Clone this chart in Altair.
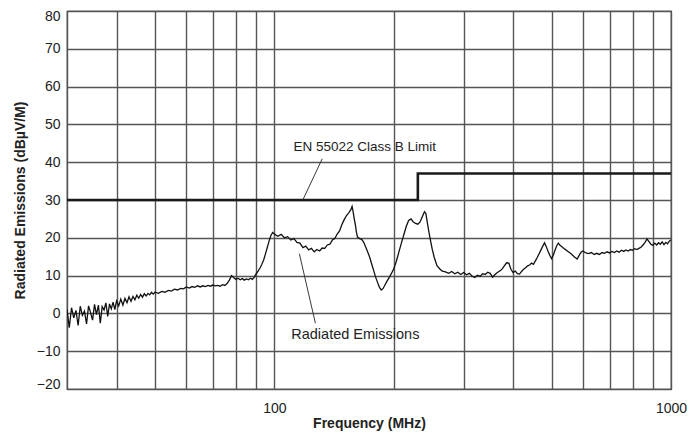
import altair as alt
import pandas as pd

# ---------------- data ----------------
# Radiated emissions trace, frequency in MHz and level in dBuV/m
freq_low = [30.0, 30.4, 30.8, 31.2, 31.6, 32.0, 32.4, 32.8, 33.2, 33.6,
            34.0, 34.4, 34.8, 35.2, 35.6, 36.0, 36.4, 36.8, 37.2, 37.6,
            38.0, 38.4, 38.8, 39.2, 39.6, 40.0, 40.5, 41.0, 41.5, 42.0,
            42.5, 43.0, 43.5, 44.0, 44.5, 45.0, 45.5, 46.0, 46.5, 47.0,
            47.5, 48.0, 48.5, 49.0, 49.5, 50.0]
db_low = [1.0, -3.8, 1.5, -1.2, 0.8, -3.2, 1.9, -0.5, 0.6, -2.8,
          2.0, 0.2, -1.8, 2.4, -0.3, 2.2, -2.6, 1.8, 0.9, 2.8,
          -0.8, 2.5, 1.2, 3.0, 1.0, 3.3, 2.0, 3.8, 2.2, 4.0,
          2.8, 4.4, 3.2, 4.5, 3.6, 4.8, 4.0, 5.0, 4.3, 5.2,
          4.6, 5.3, 4.9, 5.6, 5.1, 5.6]

freq_mid = [51, 52, 53, 54, 55, 56, 57, 58, 59, 60,
            61, 62, 63, 64, 65, 66, 67, 68, 69, 70,
            71, 72, 73, 74, 75, 76, 77, 78, 79, 80,
            81, 82, 83, 84, 85, 86, 87, 88, 89, 90,
            91, 92, 93, 94, 95, 96, 97, 98, 99, 100]
db_mid = [5.3, 5.8, 5.6, 6.1, 5.9, 6.4, 6.2, 6.6, 6.5, 7.0,
          6.7, 7.1, 6.9, 7.3, 7.0, 7.3, 7.1, 7.4, 7.2, 7.5,
          7.3, 7.4, 7.2, 7.6, 7.4, 7.9, 8.8, 10.0, 9.4, 9.0,
          9.3, 8.9, 9.2, 8.8, 9.1, 8.9, 9.3, 9.0, 9.6, 10.5,
          11.2, 12.0, 13.0, 14.2, 15.8, 17.5, 19.2, 20.6, 21.4, 21.0]

freq_peaks = [102, 104, 106, 108, 110, 112, 114, 116, 118, 120,
              122, 124, 126, 128, 130, 132, 134, 136, 138, 140,
              142, 144, 146, 148, 150, 152, 154, 156, 157, 158,
              159, 160, 161, 162, 164, 166, 168, 170, 172, 174,
              176, 178, 180, 182, 184, 186, 188, 190, 192, 195,
              198, 200, 203, 206, 209, 212, 215, 218, 221, 224,
              227, 230, 233, 236, 239, 241, 243, 245, 247, 250,
              253, 257, 261, 265, 270]
db_peaks = [20.4, 20.9, 20.0, 20.3, 19.4, 19.8, 18.8, 18.6, 17.4, 17.8,
            16.8, 17.2, 16.3, 16.9, 16.5, 17.3, 17.2, 18.1, 18.3, 19.4,
            19.8, 21.0, 21.8, 23.5, 24.8, 25.9, 26.6, 27.5, 28.3, 26.8,
            25.0, 23.5, 21.5, 20.2, 19.8, 19.6, 18.8, 17.5, 16.2, 14.8,
            13.0, 11.3, 9.6, 8.2, 6.9, 6.2, 6.6, 7.5, 8.4, 9.6,
            10.9, 11.8, 13.8, 16.2, 18.6, 20.8, 23.0, 24.6, 25.0, 24.2,
            23.8, 23.6, 24.2, 25.6, 26.9, 26.4, 24.0, 21.8, 19.8, 17.0,
            14.8, 12.6, 11.8, 11.2, 11.0]

freq_high = [275, 280, 285, 290, 295, 300, 305, 310, 315, 320,
             325, 330, 335, 340, 345, 350, 355, 360, 365, 370,
             375, 380, 385, 390, 395, 400, 405, 410, 415, 420,
             425, 430, 435, 440, 445, 450, 455, 460, 465, 470,
             475, 480, 485, 490, 495, 500, 505, 510, 515, 520,
             525, 530, 540, 550, 560, 570, 580, 585, 590, 595,
             600, 610, 620, 630, 640, 650, 660, 670, 680, 690,
             700, 710, 720, 730, 740, 750, 760, 770, 780, 790,
             800, 810, 820, 830, 840, 850, 860, 870, 880, 890,
             900, 910, 920, 930, 940, 950, 960, 970, 980, 990,
             1000]
db_high = [10.6, 11.1, 10.5, 10.9, 10.3, 10.8, 10.2, 10.6, 9.9, 9.5,
           10.1, 9.8, 10.5, 10.3, 10.9, 10.6, 9.6, 10.3, 10.8, 11.2,
           11.7, 12.6, 13.4, 13.3, 11.6, 10.8, 11.2, 10.5, 10.4, 11.1,
           11.7, 12.1, 12.6, 12.8, 13.3, 13.0, 13.9, 14.8, 15.8, 16.8,
           17.8, 18.7, 17.6, 16.4, 15.3, 14.5, 15.4, 16.7, 17.9, 18.6,
           18.0, 17.7, 17.0, 16.4, 15.8, 15.0, 14.4, 15.1, 15.8, 16.3,
           16.5, 16.0, 15.8, 16.1, 15.6, 15.9, 15.6, 16.1, 15.9, 16.3,
           16.0, 16.4, 16.1, 16.5, 16.2, 16.7, 16.4, 16.8, 16.5, 16.9,
           16.7, 17.1, 16.9, 17.2, 17.5, 18.1, 18.8, 19.7, 19.0, 18.3,
           18.0, 18.6, 18.1, 18.7, 18.3, 18.9, 18.2, 18.8, 18.4, 19.1,
           19.4]

# EN 55022 Class B limit (step at 230 MHz)
limit_freq = [30, 230, 230, 1000]
limit_db = [30, 30, 37, 37]

# Axis ticks / grid
x_grid = [30, 40, 50, 60, 70, 80, 90, 100, 200, 300, 400, 500, 600, 700, 800, 900, 1000]
y_ticks = [-20, -10, 0, 10, 20, 30, 40, 50, 60, 70, 80]

# Annotations (text anchor and leader line, in data units)
note_text = ["EN 55022 Class B Limit", "Radiated Emissions"]
note_freq = [169, 160]
note_db = [44.0, -5.8]
leader_f1 = [132.0, 115.6]
leader_db1 = [40.9, 15.8]
leader_f2 = [118.3, 126.9]
leader_db2 = [30.3, -2.6]

# ---------------- tables ----------------
freqs = freq_low + freq_mid + freq_peaks + freq_high
dbs = db_low + db_mid + db_peaks + db_high
assert len(freqs) == len(dbs)
emis = pd.DataFrame({"f": freqs, "db": dbs})
limit = pd.DataFrame({"f": limit_freq, "db": limit_db, "i": list(range(len(limit_freq)))})
notes = pd.DataFrame({"t": note_text, "f": note_freq, "db": note_db})
leaders = pd.DataFrame({"f": leader_f1, "db": leader_db1, "f2": leader_f2, "db2": leader_db2})

FONT = "Liberation Sans"
INK = "#222222"

xscale = alt.Scale(type="log", domain=[30, 1000], nice=False)
yscale = alt.Scale(domain=[-20, 80], nice=False)

xaxis = alt.Axis(
    values=x_grid, format="d",
    labelExpr="datum.value == 100 || datum.value == 1000 ? datum.label : ''",
    labelFlush=False, labelOverlap=False, labelPadding=12,
    title="Frequency (MHz)", titleY=27,
)
yaxis = alt.Axis(
    values=y_ticks, tickCount=11, labelOverlap=False,
    labelPadding=7, labelFlush=True, labelFlushOffset=2,
    title="Radiated Emissions (dBµV/M)", titleX=-40,
)

X = alt.X("f:Q", scale=xscale, axis=xaxis)
Y = alt.Y("db:Q", scale=yscale, axis=yaxis)

emis_line = alt.Chart(emis).mark_line(color="#111111", strokeWidth=1.3, clip=True).encode(
    x=X, y=Y,
)

limit_line = alt.Chart(limit).mark_line(color="#1a1a1a", strokeWidth=2.6, clip=True).encode(
    x=X, y=Y, order="i:Q",
)

leader_rules = alt.Chart(leaders).mark_rule(color="#222222", strokeWidth=0.9).encode(
    x=X, y=Y, x2="f2:Q", y2="db2:Q",
)

text_limit = alt.Chart(notes).transform_filter(
    alt.datum.t == note_text[0]
).mark_text(font=FONT, fontSize=13.5, color=INK, align="center", baseline="middle").encode(
    x=X, y=Y, text="t:N"
)
text_emis = alt.Chart(notes).transform_filter(
    alt.datum.t == note_text[1]
).mark_text(font=FONT, fontSize=14.5, color=INK, align="center", baseline="middle").encode(
    x=X, y=Y, text="t:N"
)

chart = alt.layer(emis_line, limit_line, leader_rules, text_limit, text_emis).properties(
    width=604, height=378,
    padding={"left": 59, "top": 3, "right": 17, "bottom": 42},
    autosize=alt.AutoSizeParams(type="none"),
).configure_view(
    stroke="#1a1a1a", strokeWidth=1.2,
).configure_axis(
    grid=True, gridColor="#555555", gridWidth=1.4,
    domain=False, ticks=False,
    labelFont=FONT, labelFontSize=14, labelColor=INK,
    titleFont=FONT, titleFontSize=14, titleFontWeight="bold", titleColor=INK,
)

chart.save("out.html", embed_options={"renderer": "svg", "actions": False})
